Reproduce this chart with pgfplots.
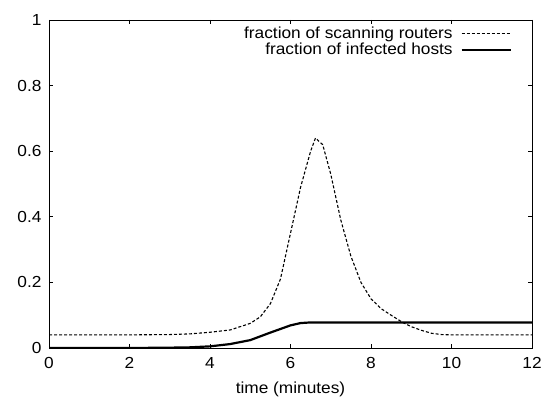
\documentclass[border=0pt]{standalone}
\usepackage{fontspec}
\setmainfont{Liberation Sans}[FakeStretch=1.08]
\usepackage{pgfplots}
\pgfplotsset{compat=1.18}
\begin{document}
\begin{tikzpicture}
\begin{axis}[
    scale only axis,
    width=483bp, height=328bp,
    xmin=0, xmax=12, ymin=0, ymax=1,
    xtick={0,2,...,12},
    ytick={0,0.2,...,1},
    tick align=inside,
    major tick length=4bp,
    axis line style={line width=0.8bp},
    every tick/.style={black, line width=0.6bp},
    font=\fontsize{16bp}{19bp}\selectfont,
    /pgf/number format/assume math mode=true,
    xticklabel style={yshift=-6bp},
    yticklabel style={xshift=-4bp},
    xlabel={time (minutes)},
    xlabel style={yshift=-6bp},
    legend style={at={(0.9586,0.985)}, anchor=north east, draw=none, fill=none,
        inner sep=0pt, legend cell align=right, row sep=-1bp, column sep=6bp,
        font=\fontsize{16bp}{19bp}\selectfont},
    legend plot pos=right,
    legend image code/.code={\draw[#1] (0bp,0bp) -- (49bp,0bp);},
]
    % scanning routers
    \addplot[black, line width=1.1bp, dash pattern=on 3bp off 2bp]
        coordinates {(0,0.04) (1,0.04) (2,0.04) (3,0.041) (3.5,0.043) (4,0.048)
        (4.5,0.055) (5,0.075) (5.25,0.095) (5.5,0.135) (5.75,0.21) (6,0.35)
        (6.25,0.49) (6.5,0.60) (6.62,0.64) (6.8,0.62) (7,0.53) (7.25,0.39)
        (7.5,0.28) (7.75,0.2) (8,0.15) (8.25,0.12) (8.5,0.1) (8.8,0.077)
        (9,0.065) (9.25,0.054) (9.5,0.045) (9.75,0.041) (10,0.04) (11,0.04) (12,0.04)};
    % infected hosts
    \addplot[black, line width=2.2bp]
        coordinates {(0,0) (2,0) (3,0.001) (3.5,0.002) (4,0.005) (4.5,0.012)
        (5,0.024) (5.5,0.047) (6,0.069) (6.25,0.076) (6.5,0.078) (12,0.078)};
    \legend{fraction of scanning routers, fraction of infected hosts}
\end{axis}
\useasboundingbox ([shift={(-49bp,-53bp)}]current axis.south west)
    rectangle ([shift={(14bp,20bp)}]current axis.north east);
\end{tikzpicture}
\end{document}
